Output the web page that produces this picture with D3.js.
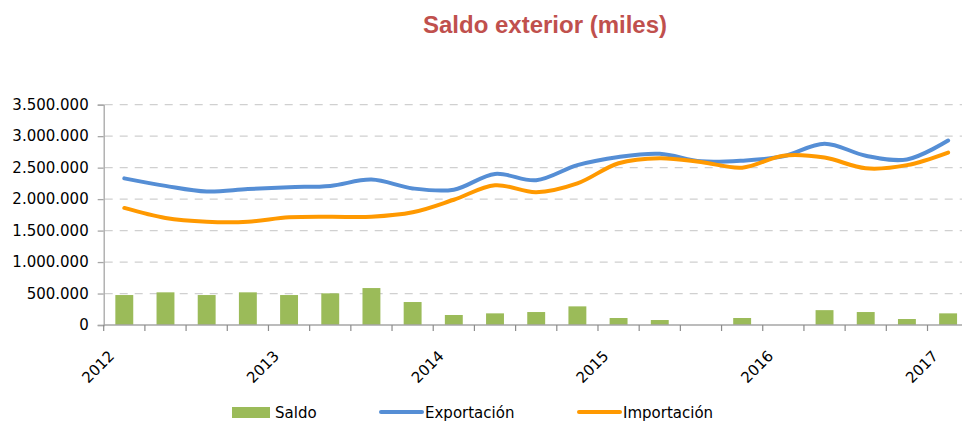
<!DOCTYPE html>
<html lang="es">
  <head>
    <meta charset="UTF-8" />
    <meta name="viewport" content="width=device-width, initial-scale=1.0" />
    <title>Saldo exterior (miles)</title>
    <style>
      body {
        margin: 0;
        background: #fff;
      }
      .label {
        font-family: "DejaVu Sans", sans-serif;
        font-size: 15px;
        fill: #000;
      }
      .title {
        font-family: "Liberation Sans", Arial, sans-serif;
        font-size: 24px;
        font-weight: bold;
        fill: #c0504d;
      }
    </style>
    <script src="https://d3js.org/d3.v7.min.js"></script>
  </head>
  <body>
    <div id="chart"></div>

    <script>
      // trimestres 2012 T1 .. 2017 T1
      const quarters = [
        "2012-T1", "2012-T2", "2012-T3", "2012-T4",
        "2013-T1", "2013-T2", "2013-T3", "2013-T4",
        "2014-T1", "2014-T2", "2014-T3", "2014-T4",
        "2015-T1", "2015-T2", "2015-T3", "2015-T4",
        "2016-T1", "2016-T2", "2016-T3", "2016-T4",
        "2017-T1",
      ];
      const yearTicks = ["2012", "2013", "2014", "2015", "2016", "2017"];

      const saldo = [
        476000, 519000, 476000, 519000, 476000, 503000, 587000, 365000,
        159000, 185000, 206000, 296000, 111000, 79000, 0, 111000, 0,
        236000, 206000, 95000, 185000,
      ];
      const exportacion = [
        2330000, 2210000, 2120000, 2160000, 2190000, 2210000, 2310000,
        2170000, 2150000, 2400000, 2300000, 2540000, 2670000, 2720000,
        2600000, 2610000, 2680000, 2880000, 2690000, 2630000, 2930000,
      ];
      const importacion = [
        1860000, 1700000, 1640000, 1640000, 1710000, 1720000, 1720000,
        1790000, 1990000, 2220000, 2110000, 2250000, 2570000, 2650000,
        2590000, 2500000, 2690000, 2660000, 2490000, 2540000, 2740000,
      ];
      const yTicks = [0, 500000, 1000000, 1500000, 2000000, 2500000, 3000000, 3500000];

      const colors = { saldo: "#9bbb59", exportacion: "#558ed5", importacion: "#ff9900" };

      const width = 962;
      const height = 423;
      const plot = { left: 103.7, right: 968.7, top: 104.7, bottom: 325 };

      const svg = d3
        .select("#chart")
        .append("svg")
        .attr("width", width)
        .attr("height", height);

      const es = d3.formatLocale({
        decimal: ",",
        thousands: ".",
        grouping: [3],
        currency: ["", " €"],
      });
      const fmt = es.format(",d");

      const x = d3
        .scaleBand()
        .domain(quarters)
        .range([plot.left, plot.right])
        .paddingInner(0)
        .paddingOuter(0);

      const y = d3
        .scaleLinear()
        .domain([0, d3.max(yTicks)])
        .range([plot.bottom, plot.top]);

      // title
      svg
        .append("text")
        .attr("class", "title")
        .attr("x", 545)
        .attr("y", 33)
        .attr("text-anchor", "middle")
        .text("Saldo exterior (miles)");

      // dashed grid
      svg
        .append("g")
        .selectAll("line")
        .data(yTicks.filter((d) => d > 0))
        .enter()
        .append("line")
        .attr("x1", plot.left + 1)
        .attr("x2", width)
        .attr("y1", (d) => y(d))
        .attr("y2", (d) => y(d))
        .attr("stroke", "#d0d0d0")
        .attr("stroke-width", 1.3)
        .attr("stroke-dasharray", "8,7");

      // y axis
      const yAxis = svg
        .append("g")
        .attr("transform", `translate(${plot.left},0)`)
        .call(d3.axisLeft(y).tickValues(yTicks).tickSize(6).tickPadding(9).tickFormat(fmt));
      yAxis.select(".domain").attr("stroke", "#a6a6a6").attr("stroke-width", 1.3);
      yAxis.selectAll(".tick line").attr("stroke", "#a6a6a6").attr("stroke-width", 1.3);
      yAxis
        .selectAll(".tick text")
        .attr("class", "label")
        .attr("font-family", null)
        .attr("font-size", null);

      // bars
      const barW = x.bandwidth() / 2.3;
      svg
        .append("g")
        .selectAll("rect")
        .data(quarters.map((q, i) => ({ q, v: saldo[i] })))
        .enter()
        .append("rect")
        .attr("x", (d) => x(d.q) + (x.bandwidth() - barW) / 2)
        .attr("y", (d) => y(d.v))
        .attr("width", barW)
        .attr("height", (d) => y(0) - y(d.v))
        .attr("fill", colors.saldo);

      // x axis line + ticks at band edges
      svg
        .append("line")
        .attr("x1", plot.left)
        .attr("x2", width)
        .attr("y1", y(0))
        .attr("y2", y(0))
        .attr("stroke", "#a6a6a6")
        .attr("stroke-width", 1.5);

      const edges = quarters.map((q) => x(q)).concat([plot.right]);
      svg
        .append("g")
        .selectAll("line")
        .data(edges)
        .enter()
        .append("line")
        .attr("x1", (d) => d)
        .attr("x2", (d) => d)
        .attr("y1", y(0))
        .attr("y2", y(0) + 6)
        .attr("stroke", "#8c8c8c")
        .attr("stroke-width", 1.2);

      // year labels (rotated)
      svg
        .append("g")
        .selectAll("text")
        .data(yearTicks)
        .enter()
        .append("text")
        .attr("class", "label")
        .attr("text-anchor", "end")
        .attr(
          "transform",
          (d) => `translate(${x(d + "-T1") + x.bandwidth() / 2 - 9},357) rotate(-45)`
        )
        .text((d) => d);

      // lines
      const line = (vals) =>
        d3
          .line()
          .x((d, i) => x(quarters[i]) + x.bandwidth() / 2)
          .y((d) => y(d))
          .curve(d3.curveCatmullRom.alpha(0.5))(vals);

      [
        [exportacion, colors.exportacion],
        [importacion, colors.importacion],
      ].forEach(([vals, c]) => {
        svg
          .append("path")
          .attr("d", line(vals))
          .attr("fill", "none")
          .attr("stroke", c)
          .attr("stroke-width", 4)
          .attr("stroke-linecap", "round")
          .attr("stroke-linejoin", "round");
      });

      // legend
      const legend = svg.append("g").attr("transform", "translate(0,418)");
      legend
        .append("rect")
        .attr("x", 232)
        .attr("y", -11)
        .attr("width", 38)
        .attr("height", 11)
        .attr("fill", colors.saldo);
      legend.append("text").attr("class", "label").attr("x", 275).attr("y", 0).text("Saldo");

      [
        ["Exportación", colors.exportacion, 381],
        ["Importación", colors.importacion, 579],
      ].forEach(([name, c, lx]) => {
        legend
          .append("line")
          .attr("x1", lx)
          .attr("x2", lx + 41)
          .attr("y1", -6)
          .attr("y2", -6)
          .attr("stroke", c)
          .attr("stroke-width", 4)
          .attr("stroke-linecap", "round");
        legend
          .append("text")
          .attr("class", "label")
          .attr("x", lx + 44)
          .attr("y", 0)
          .text(name);
      });
    </script>
  </body>
</html>
